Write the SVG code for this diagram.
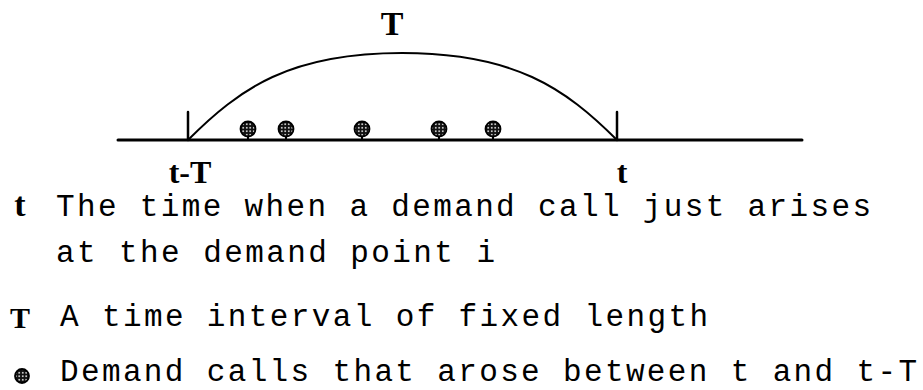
<svg xmlns="http://www.w3.org/2000/svg" width="923" height="390" viewBox="0 0 923 390">
<style>
.lbl{font-family:"Liberation Serif","Times New Roman",serif;font-weight:bold;fill:#000}
.txt{font-family:"Liberation Mono","Courier New",monospace;font-size:31px;fill:#000}
.ln{stroke:#000;fill:none;stroke-linecap:round}
.dot{fill:url(#dots);stroke:#000;stroke-width:1.8}
</style>
<defs>
<pattern id="dots" width="3.5" height="3.5" patternUnits="userSpaceOnUse">
<rect width="3.5" height="3.5" fill="#111"/>
<circle cx="1.75" cy="1.75" r="0.9" fill="#fff"/>
</pattern>
</defs>
<rect width="923" height="390" fill="#fff"/>
<g id="connectors">
<path class="ln" d="M118,140 L802,140" stroke-width="3"/>
<path class="ln" d="M188,112 L188,140" stroke-width="2.5"/>
<path class="ln" d="M617,112 L617,140" stroke-width="2.5"/>
<path class="ln" d="M188,140 C240,88 290,53 402,53 C514,53 565,88 617,140" stroke-width="2"/>
</g>
<g id="label-T"><text class="lbl" x="392" y="35" font-size="34" text-anchor="middle">T</text></g>
<g id="label-tT"><text class="lbl" x="190" y="183" font-size="32" text-anchor="middle">t-T</text></g>
<g id="label-t"><text class="lbl" x="622" y="183" font-size="32" text-anchor="middle">t</text></g>
<g id="calls">
<g id="call1"><line class="ln" x1="248" y1="134" x2="248" y2="140" stroke-width="2"/><circle class="dot" cx="248" cy="129" r="7.5"/></g>
<g id="call2"><line class="ln" x1="286" y1="134" x2="286" y2="140" stroke-width="2"/><circle class="dot" cx="286" cy="129" r="7.5"/></g>
<g id="call3"><line class="ln" x1="362" y1="134" x2="362" y2="140" stroke-width="2"/><circle class="dot" cx="362" cy="129" r="7.5"/></g>
<g id="call4"><line class="ln" x1="439" y1="134" x2="439" y2="140" stroke-width="2"/><circle class="dot" cx="439" cy="129" r="7.5"/></g>
<g id="call5"><line class="ln" x1="493" y1="134" x2="493" y2="140" stroke-width="2"/><circle class="dot" cx="493" cy="129" r="7.5"/></g>
</g>
<g id="legend-t">
<text class="lbl" x="20" y="216" font-size="34" text-anchor="middle">t</text>
<text class="txt" x="56" y="216" textLength="815" lengthAdjust="spacing">The time when a demand call just arises</text>
<text class="txt" x="56" y="262" textLength="439" lengthAdjust="spacing">at the demand point i</text>
</g>
<g id="legend-T">
<text class="lbl" x="20" y="328" font-size="30" text-anchor="middle">T</text>
<text class="txt" x="60" y="326" textLength="648" lengthAdjust="spacing">A time interval of fixed length</text>
</g>
<g id="legend-dot">
<circle class="dot" cx="22" cy="376" r="7"/>
<text class="txt" x="60" y="381" textLength="857" lengthAdjust="spacing">Demand calls that arose between t and t-T</text>
</g>
</svg>
